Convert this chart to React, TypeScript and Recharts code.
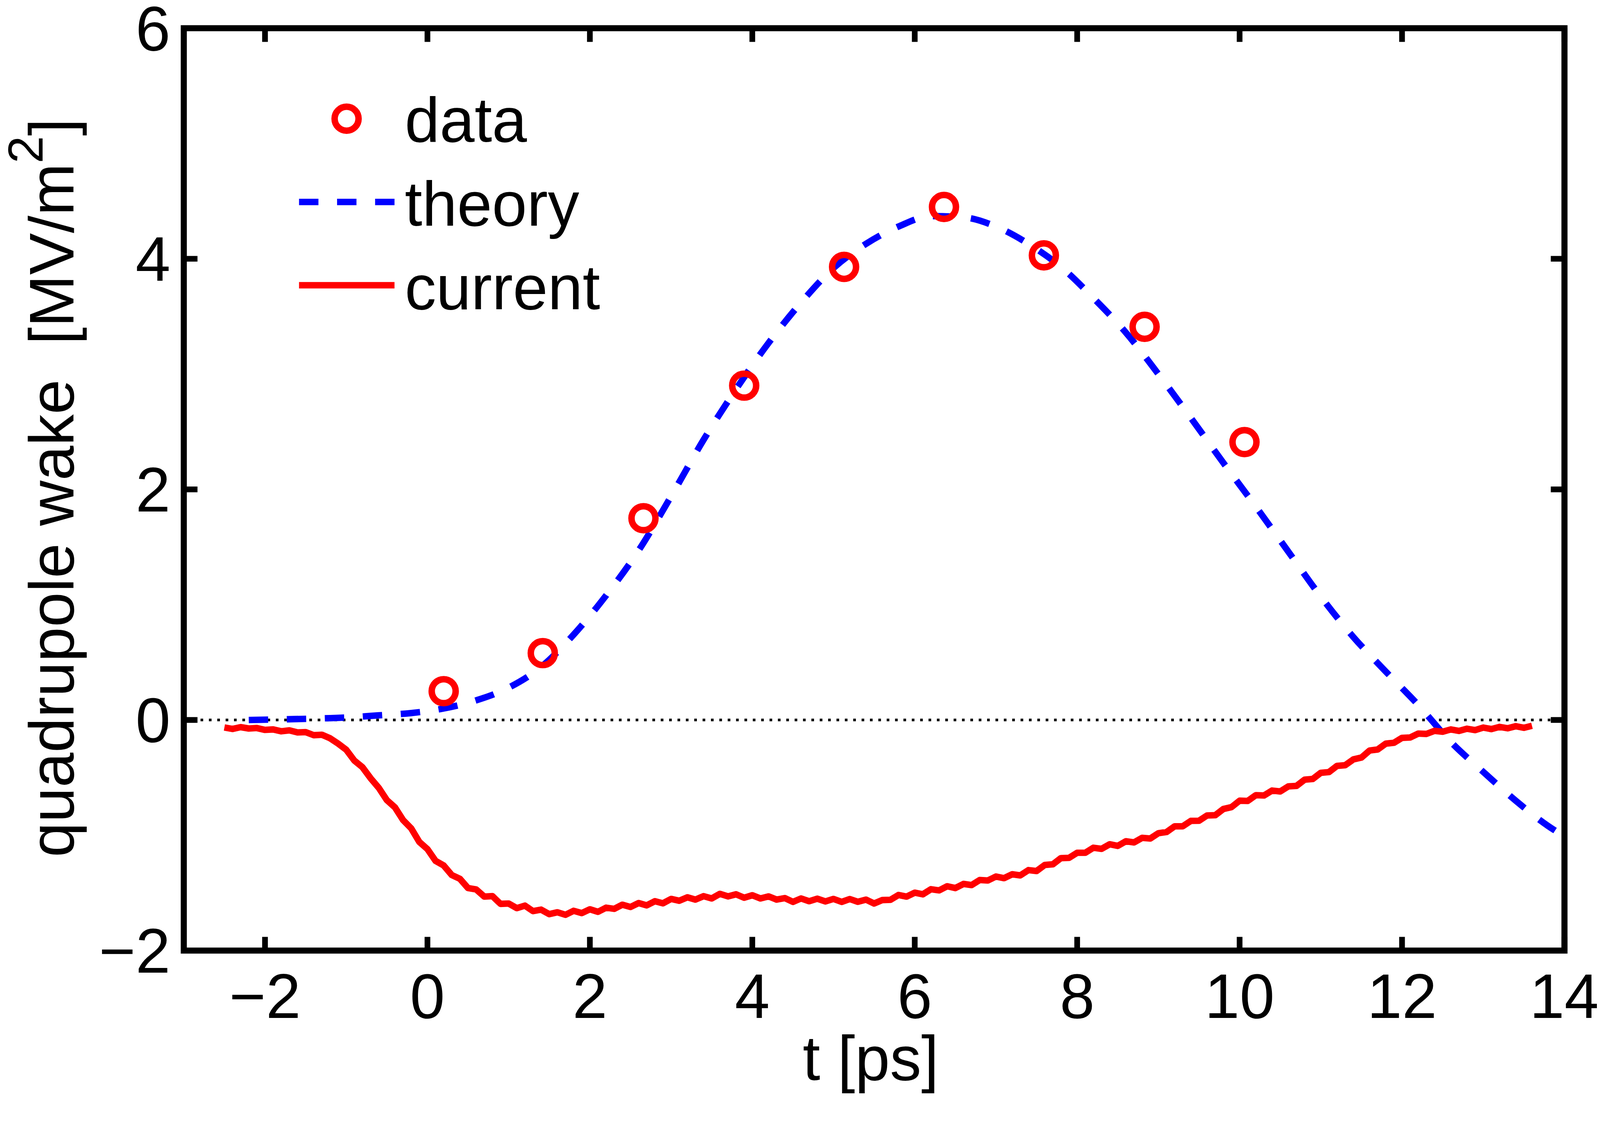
import React from 'react';
import {
  ComposedChart,
  Line,
  Scatter,
  XAxis,
  YAxis,
  ReferenceLine,
  ReferenceArea,
  Legend,
} from 'recharts';

// ---------------- data ----------------
const xTicks = [-2, 0, 2, 4, 6, 8, 10, 12, 14];
const yTicks = [-2, 0, 2, 4, 6];

const dataT = [0.2, 1.42, 2.66, 3.9, 5.13, 6.36, 7.59, 8.83, 10.06];
const dataV = [0.25, 0.58, 1.75, 2.9, 3.93, 4.45, 4.03, 3.41, 2.41];

const theoryT = [
  -2.2, -1.8, -1.4, -1.0, -0.6, -0.2, 0.2, 0.6, 1.0, 1.4, 1.8, 2.2, 2.6, 3.0,
  3.4, 3.8, 4.2, 4.6, 5.0, 5.4, 5.8, 6.2, 6.6, 7.0, 7.4, 7.8, 8.2, 8.6, 9.0,
  9.4, 9.8, 10.2, 10.6, 11.0, 11.4, 11.8, 12.2, 12.6, 13.0, 13.4, 13.8, 14.0,
];
const theoryV = [
  0, 0.005, 0.012, 0.022, 0.04, 0.06, 0.1, 0.17, 0.28, 0.46, 0.74, 1.08, 1.47,
  1.94, 2.43, 2.87, 3.27, 3.62, 3.92, 4.13, 4.28, 4.37, 4.36, 4.28, 4.13, 3.93,
  3.66, 3.36, 3.0, 2.62, 2.23, 1.85, 1.46, 1.07, 0.72, 0.42, 0.13, -0.19,
  -0.45, -0.7, -0.92, -1.01,
];

const currentT = [
  -2.5, -2.4, -2.3, -2.2, -2.1, -2.0, -1.9, -1.8, -1.7, -1.6, -1.5, -1.4, -1.3,
  -1.2, -1.1, -1.0, -0.9, -0.8, -0.7, -0.6, -0.5, -0.4, -0.3, -0.2, -0.1, 0.0,
  0.1, 0.2, 0.3, 0.4, 0.5, 0.6, 0.7, 0.8, 0.9, 1.0, 1.1, 1.2, 1.3, 1.4, 1.5,
  1.6, 1.7, 1.8, 1.9, 2.0, 2.1, 2.2, 2.3, 2.4, 2.5, 2.6, 2.7, 2.8, 2.9, 3.0,
  3.1, 3.2, 3.3, 3.4, 3.5, 3.6, 3.7, 3.8, 3.9, 4.0, 4.1, 4.2, 4.3, 4.4, 4.5,
  4.6, 4.7, 4.8, 4.9, 5.0, 5.1, 5.2, 5.3, 5.4, 5.5, 5.6, 5.7, 5.8, 5.9, 6.0,
  6.1, 6.2, 6.3, 6.4, 6.5, 6.6, 6.7, 6.8, 6.9, 7.0, 7.1, 7.2, 7.3, 7.4, 7.5,
  7.6, 7.7, 7.8, 7.9, 8.0, 8.1, 8.2, 8.3, 8.4, 8.5, 8.6, 8.7, 8.8, 8.9, 9.0,
  9.1, 9.2, 9.3, 9.4, 9.5, 9.6, 9.7, 9.8, 9.9, 10.0, 10.1, 10.2, 10.3, 10.4,
  10.5, 10.6, 10.7, 10.8, 10.9, 11.0, 11.1, 11.2, 11.3, 11.4, 11.5, 11.6, 11.7,
  11.8, 11.9, 12.0, 12.1, 12.2, 12.3, 12.4, 12.5, 12.6, 12.7, 12.8, 12.9, 13.0,
  13.1, 13.2, 13.3, 13.4, 13.5, 13.6,
];
const currentV = [
  -0.065, -0.078, -0.062, -0.074, -0.07, -0.086, -0.082, -0.098, -0.09, -0.108,
  -0.105, -0.132, -0.128, -0.158, -0.205, -0.258, -0.352, -0.41, -0.505,
  -0.588, -0.695, -0.758, -0.868, -0.94, -1.058, -1.12, -1.222, -1.262, -1.345,
  -1.378, -1.458, -1.47, -1.532, -1.528, -1.595, -1.592, -1.632, -1.61, -1.658,
  -1.645, -1.684, -1.668, -1.69, -1.655, -1.675, -1.642, -1.664, -1.628,
  -1.638, -1.602, -1.622, -1.588, -1.608, -1.572, -1.59, -1.552, -1.568,
  -1.538, -1.558, -1.528, -1.548, -1.508, -1.53, -1.512, -1.542, -1.52, -1.548,
  -1.53, -1.558, -1.545, -1.578, -1.548, -1.572, -1.55, -1.574, -1.552, -1.578,
  -1.553, -1.577, -1.558, -1.592, -1.562, -1.56, -1.518, -1.532, -1.498,
  -1.512, -1.468, -1.478, -1.442, -1.458, -1.422, -1.432, -1.388, -1.392,
  -1.358, -1.372, -1.338, -1.348, -1.302, -1.31, -1.258, -1.252, -1.198,
  -1.196, -1.152, -1.152, -1.108, -1.118, -1.078, -1.092, -1.052, -1.062,
  -1.022, -1.028, -0.982, -0.972, -0.922, -0.922, -0.875, -0.874, -0.828,
  -0.826, -0.772, -0.756, -0.7, -0.702, -0.652, -0.655, -0.612, -0.62, -0.576,
  -0.572, -0.518, -0.512, -0.458, -0.452, -0.398, -0.392, -0.342, -0.326,
  -0.265, -0.256, -0.205, -0.198, -0.155, -0.152, -0.118, -0.121, -0.094,
  -0.102, -0.082, -0.095, -0.076, -0.088, -0.066, -0.079, -0.06, -0.072,
  -0.054, -0.068, -0.05,
];

const dataPts = dataT.map((t, i) => ({ t, v: dataV[i] }));
const theoryPts = theoryT.map((t, i) => ({ t, v: theoryV[i] }));
const currentPts = currentT.map((t, i) => ({ t, v: currentV[i] }));

// ---------------- layout / style ----------------
const K = 0.9737; // compensates for the capture magnification
const W = 4195;
const H = 2878;
const PL = 475;
const PT = 66;
const PR = 4105;
const PB = 2492;
const FONT = '"Liberation Sans", Arial, Helvetica, sans-serif';
const FS = 165;
const RED = '#ff0000';
const BLUE = '#0000ff';
const TICK_LEN = 36;
const TICK_W = 15;

const fmt = (v: number) => (v < 0 ? '\u2212' + Math.abs(v) : String(v));

const XTick = (props: any) => {
  const x = props.x;
  const v = props.payload.value;
  return (
    <g>
      <line x1={x} x2={x} y1={PB} y2={PB - TICK_LEN} stroke="#000" strokeWidth={TICK_W} />
      <line x1={x} x2={x} y1={PT} y2={PT + TICK_LEN} stroke="#000" strokeWidth={TICK_W} />
      <text x={x} y={PB + 177} textAnchor="middle" fontSize={FS} fontFamily={FONT} fill="#000">
        {fmt(v)}
      </text>
    </g>
  );
};

const YTick = (props: any) => {
  const y = props.y;
  const v = props.payload.value;
  return (
    <g>
      <line x1={PL} x2={PL + TICK_LEN} y1={y} y2={y} stroke="#000" strokeWidth={TICK_W} />
      <line x1={PR} x2={PR - TICK_LEN} y1={y} y2={y} stroke="#000" strokeWidth={TICK_W} />
      <text x={PL - 35} y={y + 58} textAnchor="end" fontSize={FS} fontFamily={FONT} fill="#000">
        {fmt(v)}
      </text>
    </g>
  );
};

const XLabel = () => (
  <text x={2281} y={2832} textAnchor="middle" fontSize={FS} fontFamily={FONT} fill="#000">
    t [ps]
  </text>
);

const YLabel = () => (
  <text
    x={185}
    y={1275}
    transform="rotate(-90, 185, 1275)"
    textAnchor="middle"
    fontSize={FS}
    fontFamily={FONT}
    fill="#000"
    style={{ whiteSpace: 'pre' }}
  >
    {'quadrupole wake  [MV/m'}
    <tspan dy={-81} fontSize={130}>
      2
    </tspan>
    <tspan dy={81}>]</tspan>
  </text>
);

const LegendBox = () => (
  <svg width={900} height={700} style={{ display: 'block' }}>
    <circle cx={203} cy={104} r={31.5} fill="none" stroke={RED} strokeWidth={17} />
    <line x1={78} x2={329} y1={323} y2={323} stroke={BLUE} strokeWidth={17} strokeDasharray="51 49" />
    <line x1={78} x2={329} y1={542} y2={542} stroke={RED} strokeWidth={17} />
    <text x={356} y={165} fontSize={FS} fontFamily={FONT} fill="#000">data</text>
    <text x={356} y={385} fontSize={FS} fontFamily={FONT} fill="#000">theory</text>
    <text x={356} y={605} fontSize={FS} fontFamily={FONT} fill="#000">current</text>
  </svg>
);

const Ring = (props: any) => (
  <circle cx={props.cx} cy={props.cy} r={31.5} fill="none" stroke={RED} strokeWidth={17} />
);

export default function App() {
  return (
    <div
      style={{
        width: W,
        height: H,
        background: '#fff',
        transform: `scale(${K})`,
        transformOrigin: '0 0',
      }}
    >
      <ComposedChart
        width={W}
        height={H}
        margin={{ top: PT, right: W - PR, bottom: 86, left: 175 }}
      >
        <XAxis
          type="number"
          dataKey="t"
          domain={[-3, 14]}
          ticks={xTicks}
          interval={0}
          height={300}
          axisLine={false}
          tickLine={false}
          allowDataOverflow
          tick={(p: any) => <XTick {...p} />}
          label={<XLabel />}
        />
        <YAxis
          type="number"
          dataKey="v"
          domain={[-2, 6]}
          ticks={yTicks}
          interval={0}
          width={300}
          axisLine={false}
          tickLine={false}
          allowDataOverflow
          tick={(p: any) => <YTick {...p} />}
          label={<YLabel />}
        />
        <ReferenceLine y={0} stroke="#000" strokeWidth={7} strokeDasharray="7 15" />
        <Scatter
          name="data"
          data={dataPts}
          dataKey="v"
          shape={(p: any) => <Ring {...p} />}
          isAnimationActive={false}
        />
        <Line
          name="theory"
          data={theoryPts}
          dataKey="v"
          type="monotone"
          stroke={BLUE}
          strokeWidth={17}
          strokeDasharray="51 49"
          dot={false}
          activeDot={false}
          isAnimationActive={false}
        />
        <Line
          name="current"
          data={currentPts}
          dataKey="v"
          type="linear"
          stroke={RED}
          strokeWidth={17}
          strokeLinejoin="round"
          dot={false}
          activeDot={false}
          isAnimationActive={false}
        />
        <ReferenceArea
          x1={-3}
          x2={14}
          y1={-2}
          y2={6}
          fill="none"
          fillOpacity={0}
          stroke="#000"
          strokeWidth={16}
          strokeOpacity={1}
        />
        <Legend
          layout="horizontal"
          verticalAlign="middle"
          align="center"
          content={() => <LegendBox />}
          wrapperStyle={{ left: 700, top: 200, width: 900, height: 700 }}
        />
      </ComposedChart>
    </div>
  );
}
